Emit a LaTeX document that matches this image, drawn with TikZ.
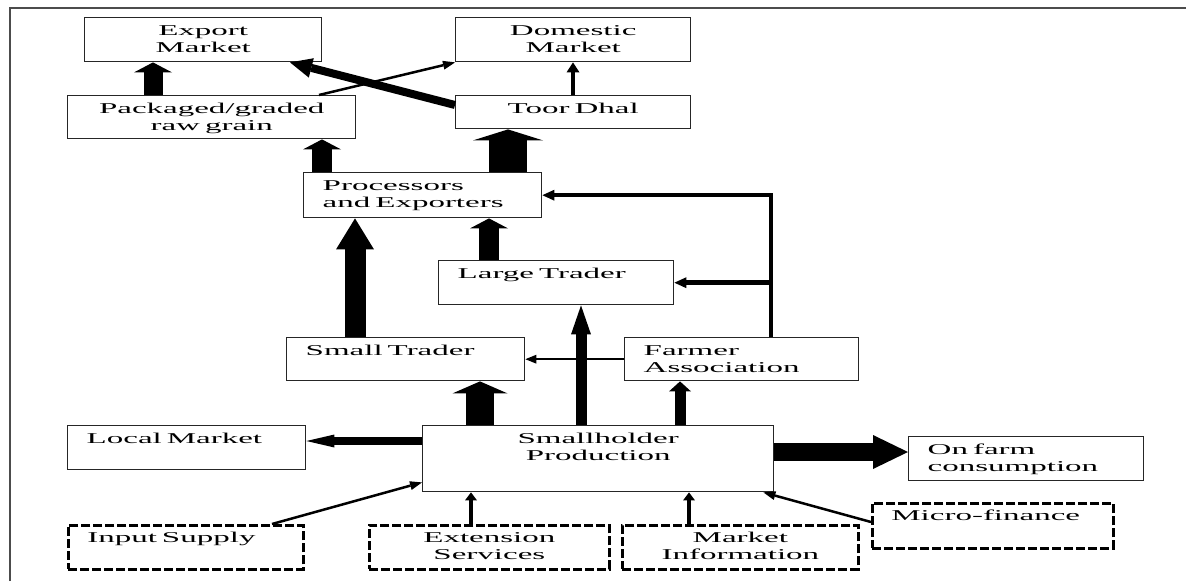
\documentclass[tikz,border=0pt]{standalone}
\usepackage{fontspec}
\newfontfamily\dfont{Liberation Serif}[FakeStretch=2.2]
\usetikzlibrary{arrows.meta,calc}
\tikzset{
 box/.style={draw=black!85, line width=1.4pt, anchor=north west, inner ysep=0pt,
   text height=17.5pt, font=\dfont\fontsize{15pt}{17pt}\selectfont},
 cbox/.style={box, inner xsep=0pt, align=center},
 lbox/.style={box, inner xsep=19pt, align=left},
 dbox/.style={draw=black, dash pattern=on 9pt off 3pt, line width=2.7pt},
 ar/.style n args={3}{draw=black, line width=#1, -{Triangle[length=#2,width=#3,line width=0pt]}},
}
\begin{document}
\begin{tikzpicture}[x=1pt,y=-1pt]
\useasboundingbox (0,0) rectangle (1186,581);
\draw[line width=2.5pt, black!70] (10,581) -- (10,8) -- (1186,8);

% boxes
\node[cbox, text width=237pt, text depth=26.5pt] (exp) at (84,17) {Export\\Market};
\node[cbox, text width=235pt, text depth=26.5pt] (dom) at (455,17) {Domestic\\Market};
\node[cbox, text width=288pt, text depth=25.5pt] (pkg) at (67,95) {Packaged/graded\\raw grain};
\node[cbox, text width=235pt, text depth=15.5pt] (toor) at (455,95) {Toor Dhal};
\node[lbox, text width=200pt, text depth=27.5pt] (proc) at (303,172) {Processors\\and Exporters};
\node[lbox, text width=197pt, text depth=26.5pt] (large) at (438,260) {Large Trader};
\node[lbox, text width=200pt, text depth=25.5pt] (small) at (286,337) {Small Trader};
\node[lbox, text width=196pt, text depth=25.5pt] (farmer) at (624,337) {Farmer\\Association};
\node[lbox, text width=200pt, text depth=26.5pt] (local) at (67,425) {Local Market};
\node[cbox, text width=351pt, text depth=48.5pt] (sh) at (422,425) {Smallholder\\Production};
\node[lbox, text width=197pt, text depth=26.5pt] (onfarm) at (908,436) {On farm\\consumption};
\node[lbox, dbox, text width=197pt, text depth=26.5pt] (input) at (67,524) {Input Supply};
\node[cbox, dbox, text width=240pt, text depth=26.5pt] (ext) at (368,524) {Extension\\Services};
\node[cbox, dbox, text width=236pt, text depth=26.5pt] (mkt) at (621,524) {Market\\Information};
\node[lbox, dbox, text width=203pt, text depth=27.5pt] (micro) at (871,502) {Micro-finance};

% helper coordinates
\coordinate (cA) at (153,0);
\coordinate (cB) at (573,0);
\coordinate (cC) at (322,0);
\coordinate (cD) at (508,0);
\coordinate (cE) at (355,0);
\coordinate (cF) at (489,0);
\coordinate (cG) at (480,0);
\coordinate (cH) at (581,0);
\coordinate (cI) at (680,0);
\coordinate (cJ) at (771,0);
\coordinate (cK) at (471,0);
\coordinate (cL) at (689,0);
\coordinate (yLocal) at (0,441);
\coordinate (yFarm) at (0,452);

% connectors
\draw[ar={19pt}{10pt}{38pt}] (pkg.north -| cA) -- (exp.south -| cA);
\draw[ar={4pt}{10pt}{13pt}] (toor.north -| cB) -- (dom.south -| cB);
\draw[ar={8pt}{22pt}{20pt}] ($(toor.north west)+(0,10)$) -- ($(exp.south west)+(206,0)$);
\draw[ar={2.5pt}{12pt}{9pt}] ($(pkg.north west)+(252,0)$) -- (dom.south west);
\draw[ar={20pt}{10pt}{38pt}] (proc.north -| cC) -- (pkg.south -| cC);
\draw[ar={38pt}{11pt}{70pt}] (proc.north -| cD) -- (toor.south -| cD);
\draw[ar={21pt}{31pt}{38pt}] (small.north -| cE) -- (proc.south -| cE);
\draw[ar={20pt}{10pt}{38pt}] (large.north -| cF) -- (proc.south -| cF);
\draw[ar={4.5pt}{12pt}{11pt}] (farmer.north -| cJ) -- (cJ |- proc.east) -- (proc.east);
\draw[ar={4.5pt}{12pt}{11pt}] (cJ |- large.east) -- (large.east);
\draw[ar={28pt}{12pt}{55pt}] (sh.north -| cG) -- (small.south -| cG);
\draw[ar={11pt}{29pt}{20pt}] (sh.north -| cH) -- (large.south -| cH);
\draw[ar={2.5pt}{11pt}{9pt}] (farmer.west) -- (small.east);
\draw[ar={11pt}{10pt}{22pt}] (sh.north -| cI) -- (farmer.south -| cI);
\draw[ar={8pt}{28pt}{13pt}] (sh.west |- yLocal) -- (local.east |- yLocal);
\draw[ar={18pt}{35pt}{34pt}] (sh.east |- yFarm) -- (onfarm.west |- yFarm);
\draw[ar={4pt}{8pt}{12pt}] (ext.north -| cK) -- (sh.south -| cK);
\draw[ar={4pt}{8pt}{12pt}] (mkt.north -| cL) -- (sh.south -| cL);
\draw[ar={2.5pt}{12pt}{9pt}] ($(input.north west)+(205,0)$) -- ($(sh.south west)+(0,-10)$);
\draw[ar={2.5pt}{12pt}{9pt}] ($(micro.north west)+(0,20)$) -- ($(sh.south east)+(-11,0)$);
\end{tikzpicture}
\end{document}
